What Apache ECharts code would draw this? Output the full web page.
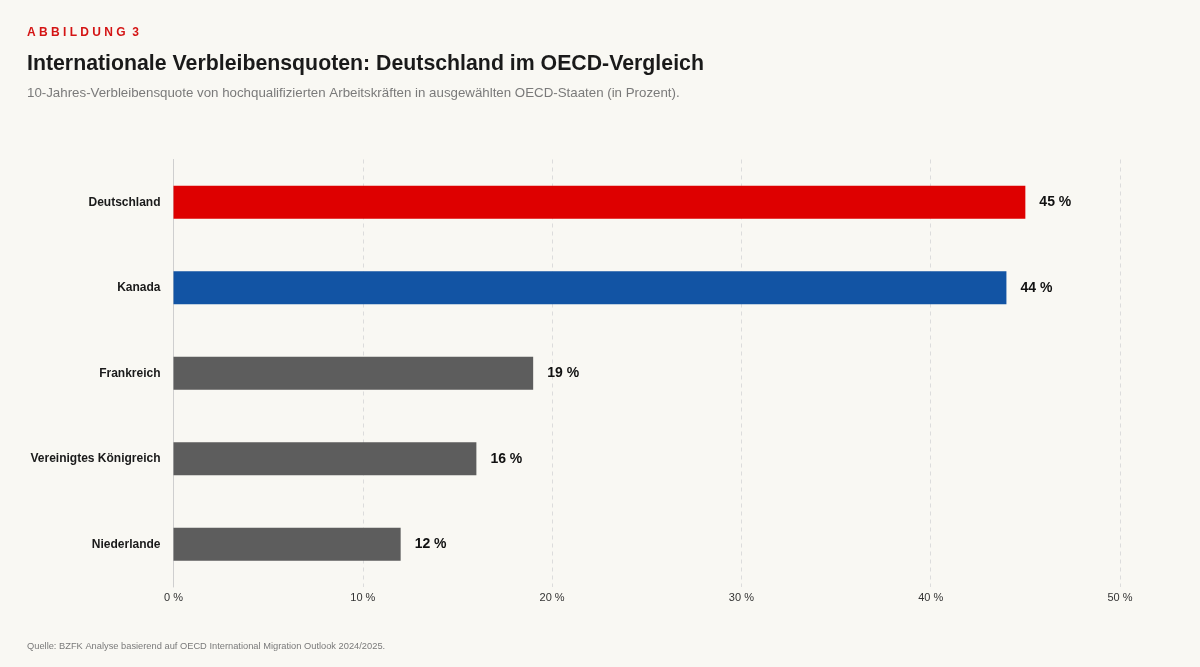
<!DOCTYPE html>
<html><head><meta charset="utf-8">
<script src="https://cdn.jsdelivr.net/npm/echarts@6/dist/echarts.min.js"></script>
<style>html,body{margin:0;padding:0;background:#f9f8f3;}#c{width:1200px;height:667px;}</style>
</head><body><div id="c"></div>
<script>
const categories = ['Deutschland','Kanada','Frankreich','Vereinigtes Königreich','Niederlande'];
const values = [45,44,19,16,12];
const barColors = ['#de0000','#1254a4','#5d5d5d','#5d5d5d','#5d5d5d'];
const xTicks = [0,10,20,30,40,50];

const chart = echarts.init(document.getElementById('c'));
const F = 'Liberation Sans, Arial, sans-serif';
chart.setOption({
  backgroundColor:'#f9f8f3',
  animation:false,
  title:[
    {text:'A B B I L D U N G  3',left:27,top:27,padding:0,textStyle:{fontFamily:F,fontSize:12,fontWeight:'bold',color:'#d41414'}},
    {text:'Internationale Verbleibensquoten: Deutschland im OECD-Vergleich',left:27,top:54,padding:0,textStyle:{fontFamily:F,fontSize:21.3,fontWeight:'bold',color:'#1a1a1a'}},
    {text:'10-Jahres-Verbleibensquote von hochqualifizierten Arbeitskräften in ausgewählten OECD-Staaten (in Prozent).',left:27,top:87,padding:0,textStyle:{fontFamily:F,fontSize:13.3,fontWeight:'normal',color:'#7a7a7a'}},
    {text:'Quelle: BZFK Analyse basierend auf OECD International Migration Outlook 2024/2025.',left:27,top:642,padding:0,textStyle:{fontFamily:F,fontSize:9.3,fontWeight:'normal',color:'#7a7a7a'}}
  ],
  grid:{left:173.5,right:80,top:159.5,bottom:80,containLabel:false},
  xAxis:{type:'value',min:xTicks[0],max:xTicks[xTicks.length-1],interval:10,
    axisLine:{show:false},axisTick:{show:false},
    axisLabel:{formatter:v=>v+' %',fontFamily:F,fontSize:11,color:'#333',margin:5},
    splitLine:{show:true,lineStyle:{type:[4,4],color:'#dcdcdc',width:1}}},
  yAxis:{type:'category',data:categories,inverse:true,
    axisLine:{show:true,lineStyle:{color:'#cfcfcf'}},axisTick:{show:false},
    axisLabel:{fontFamily:F,fontSize:12,fontWeight:'bold',color:'#1a1a1a',margin:13}},
  series:[{type:'bar',barWidth:33,
    data:values.map((v,i)=>({value:v,itemStyle:{color:barColors[i]}})),
    label:{show:true,position:'right',distance:14,formatter:p=>p.value+' %',fontFamily:F,fontSize:14,fontWeight:'bold',color:'#111'}}]
});
</script></body></html>
